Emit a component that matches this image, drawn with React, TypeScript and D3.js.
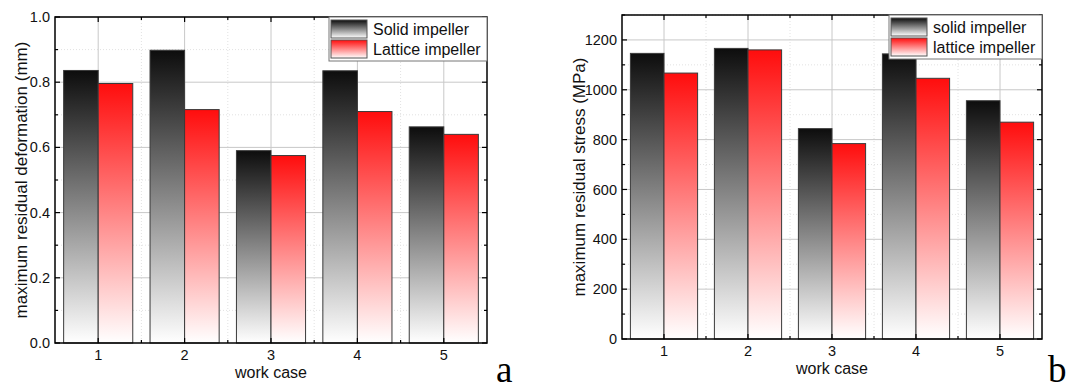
import * as d3 from 'd3';

const CASES = [1, 2, 3, 4, 5];
const DEFORM_SOLID = [0.836, 0.898, 0.59, 0.835, 0.663];
const DEFORM_LATTICE = [0.796, 0.716, 0.575, 0.71, 0.64];
const STRESS_SOLID = [1146, 1166, 844, 1144, 956];
const STRESS_LATTICE = [1067, 1160, 784, 1046, 870];
const LEGEND_A = ['Solid impeller', 'Lattice impeller'];
const LEGEND_B = ['solid impeller', 'lattice impeller'];

const FONT = '"Liberation Sans", Arial, sans-serif';

interface PanelProps {
  id: string;
  x0: number;
  x1: number;
  y0: number;
  y1: number;
  yMax: number;
  major: number;
  fmt: (v: number) => string;
  solid: number[];
  lattice: number[];
  yLabel: string;
  yLabelX: number;
  legend: string[];
  legendX: number;
  letter: string;
  letterX: number;
}

const Panel = (p: PanelProps) => {
  const x = d3.scaleLinear().domain([0.5, 5.5]).range([p.x0, p.x1]);
  const y = d3.scaleLinear().domain([0, p.yMax]).range([p.y1, p.y0]);

  const nMajor = Math.round(p.yMax / p.major);
  const yMajor = d3.range(0, nMajor + 1).map(i => i * p.major).filter(v => v <= p.yMax + 1e-9);
  const yMinor = d3.range(0, nMajor + 1).map(i => (i + 0.5) * p.major).filter(v => v <= p.yMax + 1e-9);
  const xMajor = CASES;
  const xMinor = CASES.slice(0, -1).map(c => c + 0.5);

  const gs = `gs-${p.id}`;
  const gl = `gl-${p.id}`;
  const half = 0.4;

  const lx = p.legendX;
  const ly = p.y0;

  return (
    <g>
      <defs>
        <linearGradient id={gs} x1="0" y1="0" x2="0" y2="1">
          <stop offset="0" stopColor="#0d0d0d" />
          <stop offset="1" stopColor="#ffffff" />
        </linearGradient>
        <linearGradient id={gl} x1="0" y1="0" x2="0" y2="1">
          <stop offset="0" stopColor="#ff0d0d" />
          <stop offset="1" stopColor="#ffffff" />
        </linearGradient>
      </defs>

      {/* grid */}
      {yMinor.map(v => (
        <line key={'ym' + v} x1={p.x0} x2={p.x1} y1={y(v)} y2={y(v)} stroke="#e2e2e2" strokeDasharray="1,2" />
      ))}
      {xMinor.map(v => (
        <line key={'xm' + v} x1={x(v)} x2={x(v)} y1={p.y0} y2={p.y1} stroke="#e2e2e2" strokeDasharray="1,2" />
      ))}
      {yMajor.slice(1).map(v => (
        <line key={'yg' + v} x1={p.x0} x2={p.x1} y1={y(v)} y2={y(v)} stroke="#c8c8c8" />
      ))}
      {xMajor.map(v => (
        <line key={'xg' + v} x1={x(v)} x2={x(v)} y1={p.y0} y2={p.y1} stroke="#c8c8c8" />
      ))}

      {/* bars */}
      {CASES.map((c, i) => (
        <g key={'b' + c}>
          <rect x={x(c - half)} y={y(p.solid[i])} width={x(c) - x(c - half)} height={y(0) - y(p.solid[i])}
            fill={`url(#${gs})`} stroke="#3a3a3a" strokeWidth={1} />
          <rect x={x(c)} y={y(p.lattice[i])} width={x(c + half) - x(c)} height={y(0) - y(p.lattice[i])}
            fill={`url(#${gl})`} stroke="#3a3a3a" strokeWidth={1} />
        </g>
      ))}

      {/* frame */}
      <rect x={p.x0} y={p.y0} width={p.x1 - p.x0} height={p.y1 - p.y0} fill="none" stroke="#000" strokeWidth={1.5} />

      {/* ticks, inward on all sides */}
      {yMajor.map(v => (
        <g key={'yt' + v}>
          <line x1={p.x0} x2={p.x0 + 5} y1={y(v)} y2={y(v)} stroke="#000" strokeWidth={1.2} />
          <line x1={p.x1} x2={p.x1 - 5} y1={y(v)} y2={y(v)} stroke="#000" strokeWidth={1.2} />
          <text x={p.x0 - 5} y={y(v)} dy="0.35em" textAnchor="end" fontSize={14.5} fontFamily={FONT} fill="#111">{p.fmt(v)}</text>
        </g>
      ))}
      {yMinor.map(v => (
        <g key={'ymt' + v}>
          <line x1={p.x0} x2={p.x0 + 3} y1={y(v)} y2={y(v)} stroke="#000" strokeWidth={1.2} />
          <line x1={p.x1} x2={p.x1 - 3} y1={y(v)} y2={y(v)} stroke="#000" strokeWidth={1.2} />
        </g>
      ))}
      {xMajor.map(v => (
        <g key={'xt' + v}>
          <line x1={x(v)} x2={x(v)} y1={p.y1} y2={p.y1 - 5} stroke="#000" strokeWidth={1.2} />
          <line x1={x(v)} x2={x(v)} y1={p.y0} y2={p.y0 + 5} stroke="#000" strokeWidth={1.2} />
          <text x={x(v)} y={p.y1 + 17} textAnchor="middle" fontSize={14.5} fontFamily={FONT} fill="#111">{v}</text>
        </g>
      ))}
      {xMinor.map(v => (
        <g key={'xmt' + v}>
          <line x1={x(v)} x2={x(v)} y1={p.y1} y2={p.y1 - 3} stroke="#000" strokeWidth={1.2} />
          <line x1={x(v)} x2={x(v)} y1={p.y0} y2={p.y0 + 3} stroke="#000" strokeWidth={1.2} />
        </g>
      ))}

      {/* axis titles */}
      <text x={(p.x0 + p.x1) / 2} y={p.y1 + 35} textAnchor="middle" fontSize={16} fontFamily={FONT} fill="#111">work case</text>
      <text transform={`translate(${p.yLabelX},${(p.y0 + p.y1) / 2}) rotate(-90)`} dy="0.35em" textAnchor="middle"
        fontSize={17} fontFamily={FONT} fill="#111">{p.yLabel}</text>

      {/* legend */}
      <rect x={lx} y={ly} width={p.x1 - lx} height={44} fill="#fff" stroke="#777" strokeWidth={1} />
      {p.legend.map((t, i) => (
        <g key={'lg' + i}>
          <rect x={lx + 2} y={ly + 3 + i * 20} width={36} height={18} fill={`url(#${i === 0 ? gs : gl})`} stroke="#555" strokeWidth={1} />
          <text x={lx + 44} y={ly + 12 + i * 20} dy="0.35em" fontSize={16} fontFamily={FONT} fill="#111">{t}</text>
        </g>
      ))}

      <text x={p.letterX} y={382} fontSize={37} fontFamily='"Liberation Serif", "Times New Roman", serif' fill="#000">{p.letter}</text>
    </g>
  );
};

export default function App() {
  return (
    <svg width={1071} height={385} style={{ position: 'absolute', left: 0, top: 0, background: '#fff' }}>
      <rect width={1071} height={385} fill="#fff" />
      <Panel id="a" x0={55} x1={487} y0={17} y1={343} yMax={1.0} major={0.2} fmt={d3.format('.1f')}
        solid={DEFORM_SOLID} lattice={DEFORM_LATTICE} yLabel="maximum residual deformation (mm)" yLabelX={21}
        legend={LEGEND_A} legendX={329} letter="a" letterX={496} />
      <Panel id="b" x0={622} x1={1042} y0={15} y1={339} yMax={1300} major={200} fmt={d3.format('d')}
        solid={STRESS_SOLID} lattice={STRESS_LATTICE} yLabel="maximum residual stress (MPa)" yLabelX={579}
        legend={LEGEND_B} legendX={889} letter="b" letterX={1048} />
    </svg>
  );
}
